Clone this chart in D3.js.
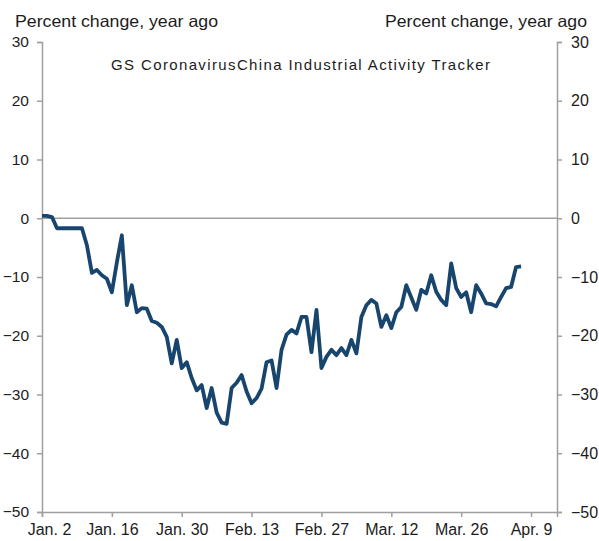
<!DOCTYPE html>
<html><head><meta charset="utf-8">
<script src="https://cdn.jsdelivr.net/npm/d3@7/dist/d3.min.js"></script>
<style>body{margin:0;background:#fff}svg{display:block}text{font-family:"Liberation Sans",Arial,sans-serif}</style>
</head><body><div id="chart"></div>
<script>
const startDate = "2020-01-02";
const values = [0.4,0.4,0.2,-1.7,-1.7,-1.7,-1.7,-1.7,-1.7,-4.6,
-9.3,-8.8,-9.7,-10.3,-12.6,-7.5,-2.9,-14.8,-11.4,-16,
-15.3,-15.4,-17.5,-17.8,-18.5,-20.2,-24.7,-20.7,-25.5,-24.5,
-27.2,-29.3,-28.4,-32.3,-28.9,-33.1,-34.8,-35,-28.9,-28,
-26.7,-29.5,-31.5,-30.6,-29,-24.5,-24.2,-28.9,-22.4,-19.8,
-19,-19.6,-16.8,-16.8,-22.8,-15.6,-25.5,-23.6,-22.4,-23.3,
-22.1,-23.3,-20.7,-23,-16.8,-14.8,-13.9,-14.5,-18.5,-16.5,
-18.7,-16,-15.1,-11.4,-13.5,-15.6,-12.2,-12.8,-9.7,-12.5,
-13.9,-14.8,-7.7,-11.9,-13.4,-12.6,-16,-11.4,-12.8,-14.5,
-14.6,-15,-13.4,-11.9,-11.7,-8.3,-8.2];
const xTickDates = ["2020-01-02","2020-01-16","2020-01-30","2020-02-13","2020-02-27","2020-03-12","2020-03-26","2020-04-09"];
const xTickLabels = ["Jan. 2","Jan. 16","Jan. 30","Feb. 13","Feb. 27","Mar. 12","Mar. 26","Apr. 9"];
const yTicks = [30,20,10,0,-10,-20,-30,-40,-50];
const axisTitle = "Percent change, year ago";
const chartTitle = "GS CoronavirusChina Industrial Activity Tracker";

(function(){
const W=599,H=541;
const mL=42,mR=557,mT=42,mB=512;
const parse=d3.utcParse("%Y-%m-%d");
const t0=parse(startDate);
const data=values.map((v,i)=>({date:d3.utcDay.offset(t0,i),v}));
const x=d3.scaleUtc().domain([t0,new Date(parse("2020-04-09").getTime()+5.2*864e5)]).range([mL,mR]);
const y=d3.scaleLinear().domain([-50,30]).range([mB,mT]);

const svg=d3.select("#chart").append("svg").attr("width",W).attr("height",H);
const grey="#a0a0a0";
const ink="#1c1c1c";

svg.append("line").attr("x1",mL).attr("x2",mR).attr("y1",y(0)).attr("y2",y(0))
  .attr("stroke",grey).attr("stroke-width",1.5);

const yl=svg.append("g").attr("transform",`translate(${mL},0)`)
  .call(d3.axisLeft(y).tickValues(yTicks).tickSize(5).tickPadding(5));
const yr=svg.append("g").attr("transform",`translate(${mR},0)`)
  .call(d3.axisRight(y).tickValues(yTicks).tickSize(5).tickPadding(6));
const xa=svg.append("g").attr("transform",`translate(0,${mB})`)
  .call(d3.axisBottom(x).tickValues(xTickDates.map(parse)).tickFormat((d,i)=>xTickLabels[i]).tickSize(5).tickPadding(7));
[yl,yr,xa].forEach(g=>{
  g.select(".domain").attr("stroke",grey).attr("stroke-width",1.5);
  g.selectAll(".tick line").attr("stroke",grey).attr("stroke-width",1.5);
  g.selectAll(".tick text").attr("fill",ink).style("font-size","16px");
});
yl.selectAll(".tick text").attr("dx","-3").style("font-size","15.5px");
yr.selectAll(".tick text").attr("dx","3");
xa.selectAll(".tick text").filter((d,i)=>i===0).attr("dx","7");

svg.append("path").datum(data)
  .attr("fill","none").attr("stroke","#17456e").attr("stroke-width",3.8)
  .attr("stroke-linejoin","round")
  .attr("d",d3.line().x(d=>x(d.date)).y(d=>y(d.v)));

svg.append("text").attr("x",15).attr("y",27).attr("fill",ink).style("font-size","16.5px")
  .attr("textLength",203).attr("lengthAdjust","spacingAndGlyphs").text(axisTitle);
svg.append("text").attr("x",385).attr("y",27).attr("fill",ink).style("font-size","16.5px")
  .attr("textLength",202).attr("lengthAdjust","spacingAndGlyphs").text(axisTitle);
svg.append("text").attr("x",111).attr("y",70).attr("fill",ink).style("font-size","15px")
  .attr("textLength",379).attr("lengthAdjust","spacing").text(chartTitle);
})();
</script></body></html>
